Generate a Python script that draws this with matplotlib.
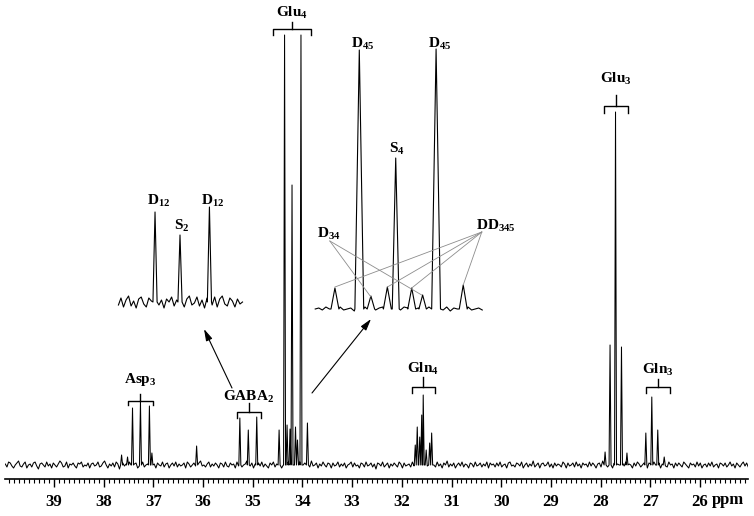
import numpy as np
import matplotlib
matplotlib.use('Agg')
import matplotlib.pyplot as plt
from matplotlib.ticker import MultipleLocator

plt.rcParams['font.family'] = ['Liberation Serif', 'DejaVu Serif']
plt.rcParams['font.weight'] = 'bold'
plt.rcParams['mathtext.fontset'] = 'custom'
plt.rcParams['mathtext.rm'] = 'Liberation Serif:bold'
plt.rcParams['mathtext.it'] = 'Liberation Serif:bold'
plt.rcParams['mathtext.bf'] = 'Liberation Serif:bold'

# main spectrum: peak positions (ppm) and heights (px above baseline)
peak_ppm = [37.64, 37.52, 37.42, 37.26, 37.08, 37.03, 36.13,
            35.26, 35.09, 34.92,
            34.47, 34.36, 34.31, 34.25, 34.21, 34.14, 34.10, 34.03, 33.90,
            31.73, 31.69, 31.64, 31.60, 31.57, 31.51, 31.44, 31.40,
            27.91, 27.81, 27.70, 27.58, 27.47,
            27.09, 26.97, 26.85, 26.72]
peak_height = [10, 8, 57, 63, 59, 12, 19,
               47, 35, 48,
               35, 430, 40, 36, 280, 38, 25, 430, 42,
               20, 38, 28, 50, 70, 15, 22, 32,
               13, 120, 353, 118, 12,
               32, 68, 35, 8]

# baseline noise, one value every 0.0333 ppm from 39.98 ppm
noise = [1, -2, 3, 2, -1, -3, 0, 2, 4, -1, -2, 1, 3, -3, 0, 1, -2, 2, 3, -1, -4, 1, 2, 0, -2,
         3, -1, 1, -3, 2, 0, -2, 1, 4, 2, -2, -1, 3, -3, 1, 0, 2, -1, -3, 2, 1, 3, -2, 0, -1,
         2, -3, 1, 2, -1, 0, 3, -2, -1, 2, 4, 0, -3, 1, -1, 2, -2, 3, 1, -4, 0, 2, -1, 1, -2,
         3, 0, -2, 1, 2, -3, -1, 2, 3, -2, 0, 1, -1, 4, -2, 1, -3, 2, 0, -1, 3, -2, 1, 2, -3,
         0, 2, -1, 3, -2, 1, -1, 0, 2, -3, 3, 1, -2, 0, 2, -1, -3, 2, 4, -1, 0, -2, 1, 3, -2,
         1, -1, 2, 0, -3, 2, 1, -2, 3, -1, -2, 2, 0, 1, -3, 3, -1, 2, -2, 0, 1, 4, -2, -1, 2,
         -3, 1, 0, 2, -1, 3, -2, 1, -1, -3, 2, 0, 3, -2, 1, 2, -1, -3, 0, 2, -2, 3, 1, -1, 0,
         2, -2, 1, 3, -3, 0, 2, -1, 1, -2, 4, -1, 0, 2, -3, 1, -1, 3, 0, -2, 2, 1, -3, 2, -1,
         0, 3, -2, 1, -1, 2, -3, 0, 1, 3, -2, 2, -1, 0, -3, 2, 1, -2, 3, -1, 0, 2, -2, 1, -4,
         2, 1, -1, 3, -2, 0, 2, -3, 1, -1, 2, 0, -2, 3, 1, -3, 2, -1, 0, 1, -2, 3, -1, 2, -3,
         1, 0, 2, -2, 3, -1, -3, 2, 1, 0, -2, 3, -1, 1, -3, 2, 0, 4, -2, 1, -1, 2, -3, 0, 2,
         -1, 3, -2, 1, 0, -3, 2, 1, -2, 3, -1, 0, 2, -2, 1, -1, 3, -3, 2, 0, 1, -2, 2, -1, 3,
         -2, 0, 1, -3, 2, 3, -1, 0, -2, 2, 1, -1, 3, -3, 0, 2, -2, 1, -1, 4, -2, 0, 2, -3, 1,
         2, -1, 0, 3, -2, 1, -3, 2, -1, 1, 0, -2, 3, 1, -3, 2, -1, 0, 2, -2, 3, -1, 1, -3, 2,
         0, 1, -2, 3, -1, 2, 0, -3, 1, 2, -2, 4, -1, 0, -2, 1, 3, -3, 2, -1, 1, 0, -2, 2, -1,
         3, -2, 1, 0, -3, 2, -1, 3, 1, -2, 0, 2, -1, -3, 2, 1, -2, 3, 0, -1, 2, -3, 1, 2, -1,
         -2, 3, 0, 1, -3, 2, -1, 2, 0, -2, 3, 1, -1, -3, 2, 0, 1, -2, 3, -1, 2, -3, 0, 1, -2,
         2, -1, 3, -2, 0, 1, -3, 2, 1, -1, 2, -2, 0, 3, -1, 1, -3, 2, 0, -2, 1, 3, -1, 2, -2]

# left inset (GABA C2)
ins1_ppm = [35.26, 35.103, 34.918]
ins1_height = [90, 67, 95]
ins1_noise = [-3, 4, -5, 2, 6, -4, 1, -6, 3, 5, -2, -5, 4, 1, -4, 6, -3, 2, -6, 3, 0, 5, -4, 2, -2,
              4, -5, 3, 6, -3, -1, 5, -4, 2, -6, 4, 1, -3, 5, -5, 3, 6, -2, -4, 4, 1, -5, 3, -2, 0]
ins1_labels = [r'D$_{12}$', r'S$_{2}$', r'D$_{12}$']
ins1_label_x = [35.235, 35.09, 34.898]
ins1_label_y = [97, 72, 97]

# right inset (Glu C4)
ins2_ppm = [34.465, 34.36, 34.31, 34.239, 34.203, 34.134, 34.087, 34.029, 33.912]
ins2_height = [21, 259, 13, 22, 151, 21, 14, 260, 24]
ins2_hw = [0.017, 0.019, 0.016, 0.017, 0.015, 0.017, 0.016, 0.019, 0.017]
ins2_noise = [0, 1, -1, 2, 0, -2, 1, 2, -1, 0, 1, -2, 0, 1, 2, -1, 0, -1, 1, 2, 0, -2, 1, 0,
              -1, 2, 1, -1, 0, 1, -2, 0, 2, -1, 1, 0, -1, 2, -2, 1, 0, -1, 1, 2, -1, 0, 1, -1]
d34_targets = [(34.31, 12), (34.091, 14)]
dd345_targets = [(34.465, 22), (34.239, 22), (34.134, 21), (33.912, 24)]


def trace(nx, ny, pos, hgt, hw):
    nx = np.asarray(nx, float)
    ny = np.asarray(ny, float)
    pos = np.asarray(pos, float)
    hgt = np.asarray(hgt, float)
    hw = np.broadcast_to(np.asarray(hw, float), pos.shape)
    keep = np.all(np.abs(nx[:, None] - pos[None, :]) > hw[None, :], axis=1)
    xs = np.concatenate([nx[keep], pos - hw, pos, pos + hw])
    ys = np.concatenate([ny[keep], np.zeros(len(pos)), hgt, np.zeros(len(pos))])
    o = np.argsort(xs)
    return xs[o], ys[o]


def bracket(ax, x0, x1, y, drop, stem, label, ly):
    xc = (x0 + x1) / 2
    ax.plot([x0, x0, x1, x1], [drop, y, y, drop], color='k', lw=1.0)
    ax.plot([xc, xc], [y, stem], color='k', lw=1.0)
    ax.text(xc, ly, label, ha='center', va='baseline', fontsize=11)


W, H = 754, 516
fig = plt.figure(figsize=(W / 100, H / 100), dpi=100)

ax = fig.add_axes([5 / W, 37 / H, 743 / W, 479 / H])
nx = 39.98 - 0.0333 * np.arange(len(noise))
x, y = trace(nx, noise, peak_ppm, peak_height, 0.02)
ax.plot(x, y, color='k', lw=0.75)
ax.set_xlim(39.986, 25.034)
ax.set_ylim(-14, 465)
for s in ['top', 'left', 'right']:
    ax.spines[s].set_visible(False)
ax.spines['bottom'].set_linewidth(1.2)
ax.set_yticks([])
ax.xaxis.set_major_locator(MultipleLocator(1))
ax.xaxis.set_minor_locator(MultipleLocator(0.1))
ax.tick_params(axis='x', which='major', direction='out', length=6, width=1.0,
               labelsize=12, pad=5)
ax.tick_params(axis='x', which='minor', direction='out', length=3, width=0.8)
ax.text(25.436, -0.044, 'ppm', transform=ax.get_xaxis_transform(),
        ha='center', va='center', fontsize=12)

bracket(ax, 37.511, 37.008, 64.3, 60, 71, r'Asp$_3$', 82)
bracket(ax, 35.323, 34.840, 53.3, 47, 61.7, r'GABA$_2$', 64)
bracket(ax, 34.593, 33.828, 436, 430, 443, r'Glu$_4$', 448)
bracket(ax, 31.802, 31.333, 78.3, 72.3, 88.3, r'Gln$_4$', 92)
bracket(ax, 27.931, 27.442, 359.3, 352.3, 370, r'Glu$_3$', 382)
bracket(ax, 27.086, 26.603, 78.3, 72, 86, r'Gln$_3$', 91)

arrow = dict(arrowstyle='-|>,head_length=0.7,head_width=0.2', color='k', lw=0.8,
             shrinkA=0, shrinkB=0)
ax.annotate('', xy=(35.981, 136), xytext=(35.418, 77), arrowprops=arrow)
ax.annotate('', xy=(32.62, 146), xytext=(33.808, 72), arrowprops=arrow)

# left inset
a1 = fig.add_axes([110 / W, (H - 320) / H, 140 / W, 140 / H])
a1.set_facecolor('none')
a1.axis('off')
n1x = np.linspace(35.49, 34.71, len(ins1_noise))
x1, y1 = trace(n1x, ins1_noise, ins1_ppm, ins1_height, 0.013)
a1.plot(x1, y1, color='k', lw=0.8)
a1.set_xlim(35.543, 34.663)
a1.set_ylim(-18, 122)
for lab, lx, ly in zip(ins1_labels, ins1_label_x, ins1_label_y):
    a1.text(lx, ly, lab, ha='center', va='baseline', fontsize=11)

# right inset
a2 = fig.add_axes([310 / W, (H - 320) / H, 180 / W, 290 / H])
a2.set_facecolor('none')
a2.axis('off')
n2x = np.linspace(34.55, 33.83, len(ins2_noise))
x2, y2 = trace(n2x, ins2_noise, ins2_ppm, ins2_height, ins2_hw)
a2.plot(x2, y2, color='k', lw=0.8)
a2.set_xlim(34.5725, 33.7966)
a2.set_ylim(-11, 279)
a2.text(34.346, 261, r'D$_{45}$', ha='center', va='baseline', fontsize=11)
a2.text(34.012, 261, r'D$_{45}$', ha='center', va='baseline', fontsize=11)
a2.text(34.199, 156, r'S$_{4}$', ha='center', va='baseline', fontsize=11)
a2.text(34.542, 71, r'D$_{34}$', ha='left', va='baseline', fontsize=11)
a2.text(33.857, 79, r'DD$_{345}$', ha='left', va='baseline', fontsize=11)
for tx, ty in d34_targets:
    a2.plot([34.487, tx], [68, ty], color='0.55', lw=0.6, clip_on=False)
for tx, ty in dd345_targets:
    a2.plot([33.832, tx], [77, ty], color='0.55', lw=0.6, clip_on=False)

fig.savefig('out.png', dpi=100)
